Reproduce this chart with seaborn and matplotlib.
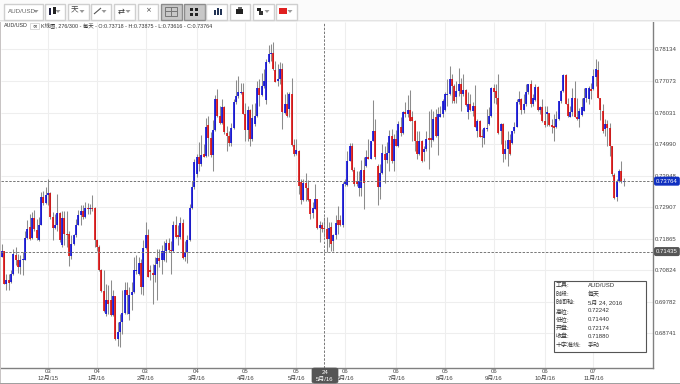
import numpy as np
import pandas as pd
import seaborn as sns
import matplotlib
matplotlib.use('Agg')
import matplotlib.pyplot as plt
from matplotlib.patches import Rectangle, FancyBboxPatch

# daily AUD/USD prices, in pips (1/10000)
opens = [7127,7144,7037,7050,7043,7068,7131,7114,7092,7114,
         7116,7189,7226,7187,7253,7216,7182,7233,7323,7303,
         7331,7337,7257,7222,7233,7271,7164,7254,7202,7202,
         7128,7167,7197,7233,7263,7279,7257,7288,7283,7288,
         7288,7182,7158,7081,7012,6938,6985,6985,6935,6996,
         6856,6878,6911,6940,7015,6938,7001,7010,7078,7068,
         7105,7026,7156,7197,7083,7073,7065,7103,7123,7114,
         7116,7147,7171,7149,7144,7233,7197,7191,7237,7127,
         7142,7182,7287,7356,7400,7455,7433,7466,7460,7562,
         7519,7463,7545,7648,7593,7570,7620,7534,7525,7501,
         7552,7637,7659,7667,7670,7600,7545,7611,7516,7565,
         7592,7686,7661,7691,7645,7769,7798,7801,7744,7708,
         7713,7747,7603,7633,7615,7664,7497,7466,7477,7373,
         7314,7369,7354,7318,7270,7284,7318,7222,7230,7222,
         7219,7185,7224,7178,7197,7248,7248,7230,7367,7365,
         7444,7494,7413,7378,7354,7354,7413,7428,7457,7450,
         7510,7543,7427,7356,7402,7466,7446,7470,7526,7444,
         7515,7494,7557,7537,7604,7598,7611,7589,7576,7510,
         7466,7508,7472,7483,7519,7519,7512,7587,7526,7590,
         7598,7611,7662,7664,7714,7692,7655,7675,7697,7664,
         7677,7606,7631,7609,7626,7543,7576,7525,7519,7549,
         7565,7592,7684,7673,7651,7543,7567,7466,7483,7512,
         7501,7541,7556,7637,7648,7611,7631,7670,7697,7631,
         7644,7688,7611,7620,7576,7598,7601,7563,7559,7554,
         7581,7640,7675,7728,7633,7590,7604,7651,7590,7581,
         7596,7609,7650,7648,7680,7680,7721,7743,7650,7609,
         7549,7567,7552,7494,7398,7323,7376,7409,7372]
highs = [7169,7147,7068,7070,7081,7153,7158,7136,7131,7141,
         7213,7249,7268,7276,7281,7252,7257,7340,7343,7356,
         7384,7340,7274,7268,7334,7274,7279,7277,7279,7213,
         7197,7202,7252,7281,7296,7296,7307,7303,7301,7329,
         7290,7185,7164,7087,7081,7037,7032,7048,7015,6998,
         6911,6938,7015,7043,7043,7026,7043,7127,7131,7125,
         7120,7182,7240,7219,7098,7103,7125,7153,7153,7164,
         7180,7186,7189,7180,7246,7260,7230,7257,7252,7180,
         7197,7301,7378,7450,7466,7505,7530,7499,7585,7592,
         7538,7578,7662,7680,7625,7648,7625,7560,7543,7570,
         7648,7710,7724,7702,7702,7636,7626,7614,7631,7636,
         7708,7713,7735,7746,7780,7827,7829,7837,7774,7763,
         7769,7766,7664,7670,7670,7719,7515,7515,7479,7384,
         7384,7402,7380,7318,7307,7367,7318,7246,7240,7257,
         7257,7240,7240,7202,7263,7295,7263,7373,7384,7475,
         7504,7504,7422,7411,7411,7446,7455,7479,7515,7510,
         7644,7581,7433,7433,7499,7494,7505,7545,7549,7532,
         7545,7576,7587,7609,7637,7660,7677,7609,7579,7543,
         7543,7512,7494,7543,7609,7614,7609,7614,7620,7625,
         7648,7670,7714,7758,7732,7697,7708,7750,7719,7730,
         7680,7670,7664,7637,7694,7581,7578,7549,7556,7614,
         7620,7688,7699,7697,7732,7570,7570,7512,7543,7532,
         7543,7571,7648,7675,7653,7664,7697,7699,7710,7664,
         7697,7691,7625,7648,7625,7625,7603,7582,7598,7609,
         7642,7677,7732,7730,7653,7625,7686,7708,7653,7618,
         7653,7686,7686,7692,7702,7746,7780,7774,7653,7631,
         7581,7578,7570,7494,7402,7384,7416,7444,7388]
lows = [7125,7035,7017,7015,7039,7065,7098,7072,7070,7065,
        7114,7186,7182,7186,7213,7182,7180,7230,7299,7301,
        7296,7252,7182,7219,7213,7175,7160,7164,7158,7095,
        7120,7164,7193,7230,7233,7252,7255,7268,7268,7279,
        7158,7147,7079,7010,6944,6932,6938,6932,6930,6852,
        6830,6828,6872,6938,6938,6916,6949,7006,7070,7065,
        7004,7001,7152,7059,7048,6971,7043,6982,7092,7070,
        7112,7109,7142,7068,7142,7189,7164,7186,7120,7112,
        7105,7180,7285,7350,7391,7411,7427,7455,7457,7460,
        7457,7409,7543,7589,7567,7565,7532,7477,7494,7494,
        7549,7633,7653,7664,7598,7510,7510,7491,7510,7560,
        7589,7625,7658,7686,7631,7766,7774,7743,7703,7691,
        7699,7549,7598,7589,7587,7494,7460,7463,7334,7301,
        7312,7312,7312,7251,7255,7284,7219,7174,7207,7191,
        7141,7158,7147,7147,7185,7202,7229,7224,7361,7361,
        7442,7411,7361,7361,7328,7328,7285,7424,7450,7450,
        7508,7450,7296,7317,7400,7369,7438,7411,7438,7409,
        7494,7488,7526,7532,7587,7587,7574,7510,7477,7450,
        7464,7439,7444,7477,7417,7488,7510,7523,7464,7587,
        7587,7609,7626,7662,7636,7636,7636,7659,7607,7659,
        7626,7581,7609,7593,7554,7523,7521,7490,7499,7543,
        7563,7590,7636,7631,7532,7499,7439,7450,7427,7464,
        7499,7537,7554,7631,7598,7603,7626,7664,7620,7626,
        7642,7609,7598,7573,7556,7559,7559,7534,7508,7552,
        7578,7636,7670,7631,7589,7587,7593,7588,7578,7554,
        7593,7607,7637,7631,7648,7677,7692,7651,7578,7537,
        7527,7494,7460,7394,7318,7312,7372,7370,7362]
closes = [7144,7037,7048,7040,7068,7134,7116,7092,7116,7120,
          7189,7219,7185,7253,7219,7187,7233,7323,7303,7331,
          7337,7257,7222,7233,7271,7182,7254,7202,7197,7128,
          7167,7197,7230,7263,7279,7257,7288,7283,7288,7284,
          7182,7158,7081,7012,6946,6985,6971,6935,6996,6856,
          6878,6911,6940,7015,7001,7001,7010,7081,7081,7105,
          7026,7156,7197,7061,7076,7065,7098,7123,7112,7147,
          7147,7171,7149,7144,7233,7193,7191,7237,7123,7142,
          7182,7287,7356,7439,7455,7433,7464,7457,7556,7519,
          7463,7545,7648,7593,7570,7620,7538,7526,7501,7552,
          7637,7659,7670,7672,7600,7545,7611,7516,7585,7592,
          7686,7661,7691,7708,7771,7798,7801,7747,7705,7713,
          7747,7606,7633,7593,7664,7497,7466,7479,7362,7314,
          7369,7354,7314,7268,7287,7318,7222,7233,7219,7219,
          7185,7222,7169,7197,7237,7230,7230,7367,7376,7444,
          7494,7413,7367,7367,7378,7413,7369,7457,7450,7510,
          7541,7455,7356,7402,7468,7446,7470,7526,7444,7515,
          7494,7565,7537,7604,7598,7611,7576,7576,7510,7466,
          7508,7442,7483,7516,7512,7512,7581,7526,7598,7598,
          7642,7664,7666,7714,7692,7640,7675,7697,7664,7677,
          7629,7631,7611,7626,7556,7576,7523,7521,7552,7552,
          7592,7684,7670,7651,7534,7567,7466,7483,7512,7466,
          7541,7556,7637,7648,7611,7633,7670,7697,7631,7651,
          7688,7611,7622,7576,7562,7604,7563,7556,7552,7581,
          7640,7675,7728,7633,7593,7604,7651,7590,7581,7609,
          7620,7650,7684,7686,7675,7724,7747,7653,7611,7541,
          7565,7552,7494,7400,7320,7378,7409,7375,7376]

y_ticks = [0.78134, 0.77073, 0.76031, 0.74990, 0.73948, 0.72907, 0.71865, 0.70824, 0.69782, 0.68741]
x_ticks = [20, 41, 62, 84, 105, 127, 148, 170, 191, 212, 234, 255]
x_labels = ['03\n12月/15', '04\n1月/16', '03\n2月/16', '04\n3月/16', '05\n4月/16', '05\n5月/16',
            '06\n6月/16', '06\n7月/16', '05\n8月/16', '06\n9月/16', '06\n10月/16', '07\n11月/16']
last_price = 0.73764
cross_price = 0.71435
cross_day = 139
header = 'K线图, 276/300 - 每天 - O:0.73718 - H:0.73875 - L:0.73616 - C:0.73764'
info_names = ['工具:', '时段:', '时间轴:', '高位:', '低位:', '开盘:', '收盘:', '十字准线:']
info_values = ['AUD/USD', '每天', '5月 24, 2016', '0.72242', '0.71440', '0.72174', '0.71880', '手动']

sns.set_style('white')
plt.rcParams['font.family'] = ['Liberation Sans', 'Noto Sans CJK SC', 'DejaVu Sans']
plt.rcParams['lines.solid_capstyle'] = 'butt'

W, H = 680, 384
fs = 4.3
fig = plt.figure(figsize=(6.8, 3.84), dpi=100, facecolor='white')
ax = fig.add_axes([1 / W, (H - 368) / H, 652 / W, 346 / H])

o, h, l, c = [np.array(a) / 10000 for a in (opens, highs, lows, closes)]
days = np.arange(len(o))
wicks = pd.DataFrame({'day': np.r_[days, days], 'price': np.r_[l, h]})
updown = np.where(c >= o, 'up', 'down')
bodies = pd.DataFrame({'day': np.r_[days, days], 'price': np.r_[o, c], 'dir': np.r_[updown, updown]})

ax.set_axisbelow(True)
ax.grid(True, color='#eeeeee', lw=0.8)
sns.lineplot(data=wicks, x='day', y='price', units='day', estimator=None, sort=False,
             color='#8c8c8c', lw=0.75, ax=ax, legend=False, zorder=2)
sns.lineplot(data=bodies, x='day', y='price', units='day', hue='dir', estimator=None, sort=False,
             palette={'up': '#0000d8', 'down': '#dc0000'}, lw=1.15, ax=ax, legend=False, zorder=3)

ax.set_xlim(-0.3, 280.7)
ax.set_ylim(0.67585, 0.79027)
ax.set_xticks(x_ticks)
ax.set_xticklabels(x_labels, fontsize=fs, color='#444444', linespacing=1.5)
ax.set_yticks(y_ticks)
ax.set_yticklabels(['%.5f' % v for v in y_ticks], fontsize=fs, color='#444444')
ax.yaxis.tick_right()
ax.tick_params(axis='both', length=0, pad=1.5)
ax.tick_params(axis='x', pad=0.5)
ax.set_xlabel('')
ax.set_ylabel('')
sns.despine(ax=ax, left=True, top=True, right=False, bottom=False)
for s in ['right', 'bottom']:
    ax.spines[s].set_color('#808080')
    ax.spines[s].set_linewidth(1.0)

for p in [last_price, cross_price]:
    ax.axhline(p, color='#777777', lw=0.7, ls=(0, (2.5, 1.5)), zorder=4)
ax.axvline(cross_day, color='#777777', lw=0.7, ls=(0, (2.5, 1.5)), zorder=4)

# price flags on the right axis
ax.annotate('%.5f' % last_price, xy=(1, last_price), xycoords=('axes fraction', 'data'), xytext=(2.2, 0),
            textcoords='offset points', fontsize=fs, color='white', va='center', ha='left', zorder=6, annotation_clip=False,
            bbox=dict(boxstyle='round,pad=0.22', fc='#1030c0', ec='#1030c0'))
ax.annotate('%.5f' % cross_price, xy=(1, cross_price), xycoords=('axes fraction', 'data'), xytext=(2.2, 0),
            textcoords='offset points', fontsize=fs, color='white', va='center', ha='left', zorder=6, annotation_clip=False,
            bbox=dict(boxstyle='round,pad=0.22', fc='#555555', ec='#555555'))


def px_rect(x, y, w, h, **kw):
    r = Rectangle((x / W, 1 - (y + h) / H), w / W, h / H, transform=fig.transFigure, **kw)
    fig.add_artist(r)
    return r


def px_text(x, y, s, **kw):
    kw.setdefault('fontsize', fs)
    kw.setdefault('color', '#333333')
    kw.setdefault('va', 'center')
    return fig.text(x / W, 1 - y / H, s, **kw)


# date flag under the crosshair
fig.add_artist(FancyBboxPatch((312 / W, 1 - 383 / H), 26 / W, 15 / H, boxstyle='round,pad=0,rounding_size=0.004',
                              transform=fig.transFigure, fc='#555555', ec='#555555', lw=0.5, zorder=5))
px_text(325, 372, '24', color='white', ha='center', zorder=6)
px_text(325, 379, '5月/16', color='white', ha='center', zorder=6)

# info box
px_rect(553.5, 280.5, 92, 71, fc='white', ec='#555555', lw=0.8, zorder=5)
for k, (name, value) in enumerate(zip(info_names, info_values)):
    y = 285.5 + k * 8.5
    px_text(556, y, name, zorder=6, fontsize=fs)
    px_text(588, y, value, zorder=6, fontsize=fs)

# page frame
px_rect(0, 20, 1, 364, fc='#c8c4c4', ec='none')
px_rect(0, 383, 680, 1, fc='#a0a0a0', ec='none')

# toolbar
px_rect(0, 0, 680, 20, fc='#fbfbfb', ec='none', zorder=7)
px_rect(0, 20, 680, 1, fc='#e4e4e4', ec='none', zorder=7)
px_rect(0, 21, 680, 1, fc='#f2f2f2', ec='none', zorder=7)
buttons = [(3, 39), (44, 20), (67, 21), (90, 20), (113, 21), (137, 20), (160, 21), (183, 21), (206, 21), (229, 20), (252, 21), (275, 21)]
for k, (bx, bw) in enumerate(buttons):
    pressed = k in (6, 7)
    px_rect(bx + 0.5, 3.5, bw, 16, fc='#c8c8c8' if pressed else 'white',
            ec='#8c8c8c' if pressed else '#cfcfcf', lw=1.0, zorder=8)
    if k not in (5, 6, 7, 8, 9):
        tx = bx + bw - 6
        fig.add_artist(plt.Polygon([[(tx - 2.5) / W, 1 - 10 / H], [(tx + 2.5) / W, 1 - 10 / H], [tx / W, 1 - 13 / H]],
                                   transform=fig.transFigure, fc='#999999', ec='none', zorder=9))
px_text(7.5, 11.5, 'AUD/USD', zorder=9, color='#666666', fontsize=4.5)
px_text(71, 11, '天', zorder=9, color='#444444', fontsize=5.5)
# toolbar icons
px_rect(49, 8, 2.5, 7, fc='#222244', ec='none', zorder=9)
px_rect(53, 7, 2.5, 7, fc='#222222', ec='none', zorder=9)
fig.add_artist(plt.Line2D([94 / W, 101 / W], [1 - 14 / H, 1 - 8 / H], transform=fig.transFigure, color='#555555', lw=0.8, zorder=9))
px_text(118, 11, '⇄', zorder=9, fontsize=6, color='#333333', family=['DejaVu Sans'])
px_text(145, 10.5, '×', zorder=9, fontsize=5, color='#444444', family=['DejaVu Sans'])
px_rect(165, 7, 12, 9, fc='none', ec='#777777', lw=0.7, zorder=9)
px_rect(165, 11, 12, 0.6, fc='#777777', ec='none', zorder=9)
px_rect(171, 7, 0.6, 9, fc='#777777', ec='none', zorder=9)
px_rect(190, 8, 3, 3, fc='#222222', ec='none', zorder=9)
px_rect(195, 8, 3, 3, fc='#222222', ec='none', zorder=9)
px_rect(190, 13, 3, 3, fc='#222222', ec='none', zorder=9)
px_rect(195, 13, 3, 3, fc='#222222', ec='none', zorder=9)
px_rect(214, 10, 1.6, 5, fc='#223355', ec='none', zorder=9)
px_rect(217, 8, 1.6, 7, fc='#223355', ec='none', zorder=9)
px_rect(220, 9, 1.6, 6, fc='#223355', ec='none', zorder=9)
px_rect(236, 9, 7, 5, fc='#222222', ec='none', zorder=9)
px_rect(237.5, 7, 4, 2, fc='#666666', ec='none', zorder=9)
px_rect(257, 8, 4, 3, fc='#222222', ec='none', zorder=9)
px_rect(259, 11, 4, 4, fc='#333333', ec='none', zorder=9)
px_rect(279, 8, 8, 6, fc='#e02020', ec='none', zorder=9)

px_text(4, 25.5, 'AUD/USD', zorder=9, fontsize=3.9)
px_rect(30, 23, 9, 6, fc='white', ec='#cccccc', lw=0.5, zorder=9)
px_text(34.5, 25.7, '∞', zorder=10, fontsize=4, ha='center', family=['DejaVu Sans'])
px_text(41, 25.5, header, zorder=9, fontsize=3.9)

fig.savefig('out.png', dpi=100)
